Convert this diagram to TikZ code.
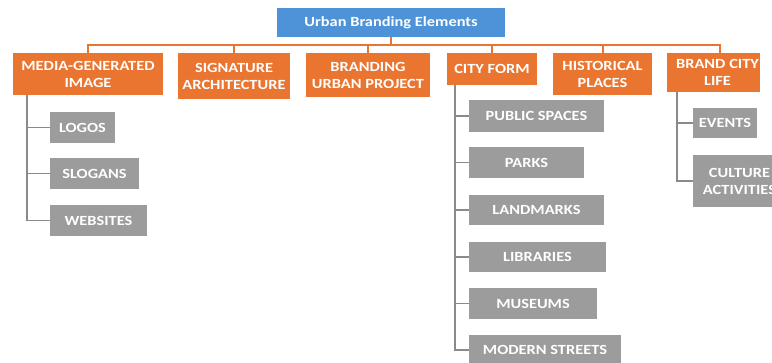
\documentclass[tikz,border=0pt]{standalone}
\usepackage{fontspec}
\setmainfont{Carlito}[FakeStretch=1.17]
\definecolor{orangebox}{HTML}{EA7530}
\definecolor{bluebox}{HTML}{4E93D8}
\definecolor{graybox}{HTML}{9C9C9C}
\definecolor{grayline}{HTML}{8A8A8A}
\tikzset{
  base/.style={inner sep=0pt, align=center, text=white, font=\bfseries\fontsize{14}{17}\selectfont},
  rootbox/.style={base, fill=bluebox, font=\bfseries\fontsize{14}{16}\selectfont},
  catbox/.style={base, fill=orangebox},
  itembox/.style={base, fill=graybox},
  bus/.style={draw=orangebox, line width=2pt},
  branch/.style={draw=grayline, line width=1.3pt},
}
\newcommand{\bx}[7]{%
  \node[#6, minimum width={(#4-#2)*1pt}, minimum height={(#5-#3)*1pt}]
    (#1) at ({(#2+#4)/2*1pt},{-(#3+#5)/2*1pt}) {#7};}
\begin{document}
\begin{tikzpicture}[x=1pt,y=1pt]
\useasboundingbox (0,0) rectangle (772,-362);
\clip (0,0) rectangle (772,-362);
% root
\bx{root}{277}{8}{505}{37}{rootbox}{Urban Branding Elements}
% categories
\bx{media}{13}{53}{163}{95}{catbox}{MEDIA-GENERATED\\IMAGE}
\bx{sig}{178}{53}{290}{99}{catbox}{SIGNATURE\\ARCHITECTURE}
\bx{proj}{306}{53}{430}{97}{catbox}{BRANDING\\URBAN PROJECT}
\bx{city}{447}{53}{537}{85}{catbox}{CITY FORM}
\bx{hist}{553}{53}{652}{95}{catbox}{HISTORICAL\\PLACES}
\bx{life}{667}{53}{760}{92}{catbox}{\hspace*{8pt}BRAND CITY\\\hspace*{8pt}LIFE}
% items
\bx{logos}{50}{112}{115}{143}{itembox}{LOGOS}
\bx{slogans}{50}{158}{139}{189}{itembox}{SLOGANS}
\bx{web}{50}{205}{147}{236}{itembox}{WEBSITES}
\bx{pub}{469}{100}{604}{132}{itembox}{PUBLIC SPACES}
\bx{parks}{469}{147}{584}{178}{itembox}{PARKS}
\bx{land}{469}{195}{604}{225}{itembox}{LANDMARKS}
\bx{lib}{469}{242}{606}{272}{itembox}{LIBRARIES}
\bx{mus}{469}{288}{597}{319}{itembox}{MUSEUMS}
\bx{mod}{469}{335}{621}{365}{itembox}{MODERN STREETS}
\bx{events}{693}{108}{757}{138}{itembox}{EVENTS}
\bx{cult}{693}{155}{786}{207}{itembox}{CULTURE\\ACTIVITIES}
% connectors
\coordinate (busy) at (0,-45);
\foreach \c in {media,sig,proj,city,hist}
  \draw[bus] (root.south) -- (root.south |- busy) -| (\c.north);
\draw[bus] (root.south) -- (root.south |- busy) -| ([xshift=6.5pt]life.north);
\coordinate (mt) at (27,-95);
\coordinate (ct) at (455,-85);
\coordinate (lt) at (677,-92);
\foreach \c in {logos,slogans,web}
  \draw[branch] (\c.west) -| (mt);
\foreach \c in {pub,parks,land,lib,mus,mod}
  \draw[branch] (\c.west) -| (ct);
\foreach \c in {events,cult}
  \draw[branch] (\c.west) -| (lt);
\end{tikzpicture}
\end{document}
